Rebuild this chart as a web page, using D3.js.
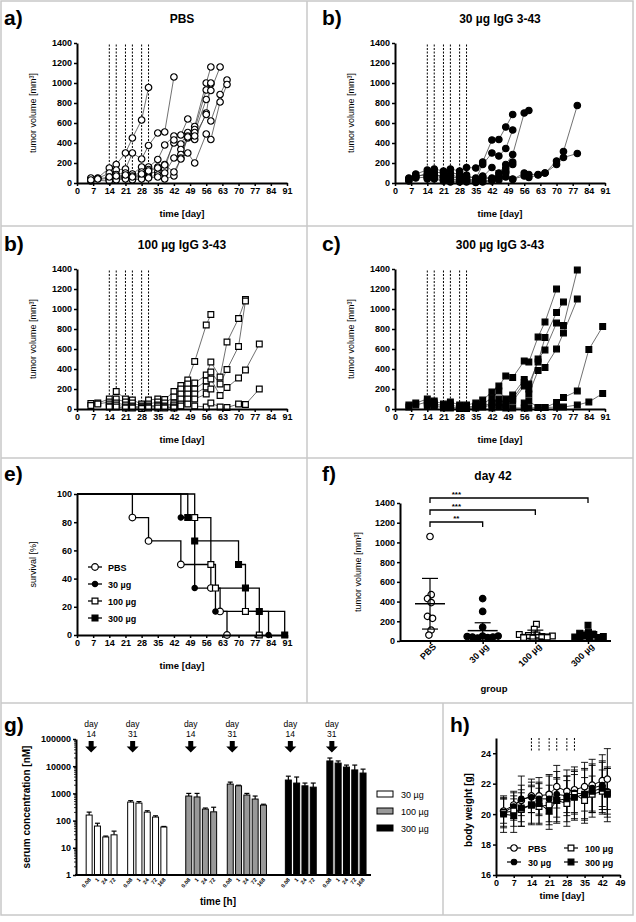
<!DOCTYPE html>
<html>
<head>
<meta charset="utf-8">
<script src="https://cdn.jsdelivr.net/npm/d3@7/dist/d3.min.js"></script>
<style>
  body { margin: 0; background: #fff; }
  svg { display: block; }
</style>
</head>
<body>
<script>
// ---------- DATA ----------
const groupNames = ["PBS", "30 µg", "100 µg", "300 µg"];
const dosingDays = [14, 17, 21, 24, 28, 31];
const dayTicks = [0, 7, 14, 21, 28, 35, 42, 49, 56, 63, 70, 77, 84, 91];
const volTicks = [0, 200, 400, 600, 800, 1000, 1200, 1400];

// tumor growth, one array of [day, volume] per mouse
const micePBS = [
  [[6,40],[9,50],[14,150],[17,185],[21,300],[24,450],[28,630],[31,955]],
  [[6,30],[9,45],[14,100],[17,130],[21,140],[24,300],[28,240],[31,375],[35,500],[38,510],[42,1060]],
  [[6,50],[9,40],[14,60],[17,85],[21,100],[24,90],[28,160],[31,160],[35,235],[38,380],[42,470],[45,480],[48,640],[51,565],[56,1000],[58,1160]],
  [[6,20],[14,50],[17,60],[21,70],[24,70],[28,110],[31,135],[35,160],[38,185],[42,400],[45,390],[48,505],[51,535],[56,930],[58,990]],
  [[14,40],[17,50],[21,60],[24,50],[28,80],[31,100],[35,110],[38,140],[42,430],[45,335],[48,470],[51,505],[56,835],[58,925],[62,1160]],
  [[14,30],[17,40],[21,50],[24,40],[28,60],[31,60],[35,80],[38,100],[42,250],[45,285],[48,450],[51,435],[56,700],[58,620],[62,885],[65,1030]],
  [[6,30],[14,20],[17,30],[21,40],[24,30],[28,40],[31,50],[35,60],[38,40],[42,70],[45,250],[48,300],[51,200],[56,490],[58,435],[62,810],[65,985]],
  [[14,60],[17,70],[21,80],[24,60],[28,90],[31,120],[35,150],[38,180],[42,110],[45,240],[48,460],[51,470],[56,685],[58,1000]]
];
const mice30 = [
  [[6,50],[9,90],[14,130],[17,140],[21,120],[24,140],[28,120],[31,155],[35,150],[38,210],[42,430],[45,435],[48,560],[51,685]],
  [[6,30],[9,60],[14,100],[17,110],[21,100],[24,100],[28,90],[31,80],[35,40],[38,185],[42,300],[45,270],[48,345],[51,530]],
  [[6,40],[9,70],[14,80],[17,90],[21,60],[24,60],[28,50],[31,40],[35,30],[38,60],[42,155],[45,100],[48,185],[51,285],[56,700],[58,725]],
  [[6,20],[9,50],[14,60],[17,70],[21,50],[24,40],[28,30],[31,30],[35,20],[38,40],[42,50],[45,70],[48,150],[51,185]],
  [[14,50],[17,50],[21,30],[24,20],[28,20],[31,20],[35,10],[38,20],[42,30],[45,50],[48,100],[51,35],[56,100],[58,85],[62,85],[65,100],[70,220],[73,255],[79,295]],
  [[14,40],[17,40],[21,20],[24,10],[28,10],[31,10],[35,5],[38,10],[42,20],[45,30],[48,60],[51,40],[56,70],[58,55],[62,80],[65,100],[70,185],[73,315],[79,775]],
  [[14,70],[17,80],[21,70],[24,80],[28,60],[31,60],[35,50],[38,70],[42,40],[45,50],[48,120],[51,210]]
];
const mice100 = [
  [[6,55],[9,60],[14,100],[17,175],[21,100],[24,90],[28,50],[31,90],[35,100],[38,95],[42,175],[45,235],[48,290],[51,475],[56,840],[58,945]],
  [[6,35],[9,50],[14,70],[17,100],[21,70],[24,60],[28,30],[31,50],[35,70],[38,60],[42,120],[45,200],[48,250],[51,260],[56,340],[58,470],[62,320],[65,670],[70,905],[73,1095]],
  [[14,50],[17,60],[21,40],[24,30],[28,20],[31,30],[35,40],[38,30],[42,60],[45,150],[48,200],[51,200],[56,280],[58,370],[62,250],[65,395],[70,625],[73,1080]],
  [[14,30],[17,40],[21,20],[24,20],[28,10],[31,20],[35,30],[38,20],[42,40],[45,100],[48,150],[51,150],[56,220],[58,300],[62,135],[65,215],[70,310],[73,390],[79,650]],
  [[14,20],[17,20],[21,10],[24,10],[28,5],[31,10],[35,10],[38,10],[42,20],[45,50],[48,100],[51,100],[56,150],[58,200]],
  [[42,10],[45,30],[48,50],[51,30],[56,20],[58,60],[62,20],[65,15],[70,50],[73,45],[79,200]]
];
const mice300 = [
  [[6,40],[9,60],[14,100],[17,80],[21,50],[24,70],[28,40],[31,40],[35,60],[38,90],[42,170],[45,230],[48,330],[51,315],[56,480],[58,470],[62,720],[65,870],[70,1200]],
  [[6,20],[9,40],[14,70],[17,60],[21,30],[24,40],[28,20],[31,20],[35,30],[38,50],[42,110],[45,180],[48,100],[51,140],[56,295],[58,250],[62,470],[65,715],[70,965],[73,1070]],
  [[14,50],[17,40],[21,20],[24,20],[28,10],[31,15],[35,20],[38,30],[42,60],[45,100],[48,50],[51,100],[56,265],[58,200],[62,500],[65,590],[70,860],[73,835],[79,1390]],
  [[14,30],[17,30],[21,10],[24,10],[28,5],[31,5],[35,10],[38,20],[42,40],[45,60],[48,30],[51,80],[56,230],[58,150],[62,385],[65,415],[70,600],[73,760],[79,1100]],
  [[56,60],[58,80],[62,15],[65,15],[70,65],[73,115],[79,180],[84,595],[90,825]],
  [[42,10],[45,20],[48,10],[51,10],[56,10],[58,10],[62,15],[65,15],[70,20],[73,20],[79,40],[84,70],[90,155]]
];

// survival [day, percent]
const survPBS = [[0,100],[24,83.3],[31,66.7],[45,50],[58,33.3],[62,16.7],[65,0]];
const surv30  = [[0,100],[45,83.3],[51,33.3],[60,16.7],[83,0]];
const surv100 = [[0,100],[51,83.3],[58,50],[60,33.3],[73,16.7],[79,0]];
const surv300 = [[0,100],[48,83.3],[51,66.7],[70,50],[73,33.3],[79,16.7],[90,0]];
const survTicks = [0, 20, 40, 60, 80, 100];

// day 42 volumes
const d42PBS = [1060, 470, 430, 390, 250, 230, 110, 60];
const d42_30 = [430, 300, 140, 50, 45, 40, 40, 35, 30, 50];
const d42_100 = [170, 120, 65, 60, 55, 50, 45, 40, 35, 30];
const d42_300 = [160, 90, 80, 65, 55, 45, 40, 35, 30, 40];
const d42Mean = [378, 105, 65, 60];
const d42SD = [257, 80, 45, 40];
const sigLabels = ["**", "***", "***"]; // PBS vs 30, 100, 300

// serum concentration (nM)
const pkDoses = ["30 µg", "100 µg", "300 µg"];
const pkDays = ["14", "31"];
const pkHours14 = ["0.08", "1", "24", "72"];
const pkHours31 = ["0.08", "1", "24", "72", "168"];
const pkMean30  = [160, 63, 25, 30, 480, 440, 205, 135, 58];
const pkUpper30 = [205, 80, 27, 41, 540, 500, 230, 150, 61];
const pkMean100  = [800, 740, 265, 210, 2200, 1900, 870, 620, 370];
const pkUpper100 = [1000, 1000, 290, 310, 2600, 2000, 1000, 800, 400];
const pkMean300  = [3100, 2400, 1900, 1700, 15600, 13000, 9300, 7300, 5600];
const pkUpper300 = [4300, 4000, 2400, 2400, 20000, 15600, 11000, 11000, 7800];
const pkTicks = [1, 10, 100, 1000, 10000, 100000];

// body weight (g)
const bwDays = [3, 7, 10, 14, 17, 21, 24, 28, 31, 35, 38, 42, 44];
const bwPBS  = [20.2, 20.6, 20.9, 21.2, 21.2, 21.3, 21.8, 21.5, 21.6, 21.8, 21.9, 22.2, 22.3];
const bwPBSsd = [0.8, 0.9, 1.0, 1.1, 1.2, 1.3, 1.4, 1.4, 1.5, 1.6, 1.7, 1.7, 2.0];
const bw30   = [20.1, 20.5, 21.0, 21.1, 21.0, 21.0, 21.3, 21.2, 21.4, 21.3, 21.7, 21.9, 21.5];
const bw30sd  = [0.9, 0.9, 1.5, 1.0, 1.1, 1.5, 1.5, 1.3, 1.4, 1.7, 1.6, 1.6, 1.5];
const bw100  = [20.1, 20.2, 20.3, 20.6, 20.5, 20.6, 20.9, 20.7, 21.3, 20.9, 21.3, 21.5, 21.4];
const bw100sd = [1.0, 1.0, 1.1, 1.2, 1.2, 1.3, 1.4, 1.5, 1.6, 1.5, 1.2, 1.4, 1.6];
const bw300  = [20.0, 19.9, 20.4, 20.6, 20.7, 20.2, 20.9, 21.0, 21.1, 21.3, 21.5, 21.7, 21.3];
const bw300sd = [1.2, 1.1, 1.2, 1.3, 1.3, 1.2, 1.5, 1.5, 1.5, 1.6, 1.7, 1.7, 1.8];
const bwTicksX = [0, 7, 14, 21, 28, 35, 42, 49];
const bwTicksY = [16, 18, 20, 22, 24];

// ---------- STYLE ----------
const FONT = "'Liberation Sans', Arial, Helvetica, sans-serif";
const markTypes = ["circleOpen", "circleFilled", "squareOpen", "squareFilled"];
const pkFills = ["#ffffff", "#999999", "#000000"];
const fmt = d3.format("d");

const svg = d3.select("body").append("svg")
  .attr("width", 636).attr("height", 922)
  .style("font-family", FONT);

// panel frame lines
const frame = svg.append("g").attr("stroke", "#c8c8c8").attr("stroke-width", 1.5).attr("fill", "none");
frame.append("rect").attr("x", 1).attr("y", 1).attr("width", 632).attr("height", 914);
[226, 458, 703].forEach(y => frame.append("line").attr("x1", 1).attr("x2", 633).attr("y1", y).attr("y2", y));
frame.append("line").attr("x1", 307).attr("x2", 307).attr("y1", 1).attr("y2", 703);
frame.append("line").attr("x1", 443).attr("x2", 443).attr("y1", 703).attr("y2", 915);

function txt(x, y, s, o = {}) {
  const t = svg.append("text").attr("x", x).attr("y", y).text(s)
    .attr("font-size", o.size || 9)
    .attr("font-weight", o.bold ? "bold" : "normal")
    .attr("text-anchor", o.anchor || "middle")
    .attr("fill", "#000");
  if (o.rotate) t.attr("transform", `rotate(${o.rotate},${x},${y})`);
  return t;
}

function drawAxis(axis, tx, ty) {
  const a = svg.append("g").attr("transform", `translate(${tx},${ty})`).call(axis);
  a.attr("font-family", FONT).attr("font-size", 9).attr("font-weight", "bold");
  a.select(".domain").attr("stroke-width", 2);
  a.selectAll(".tick line").attr("stroke-width", 1.5);
  a.selectAll(".tick text").attr("fill", "#000");
  return a;
}

function marker(sel, type, scale = 1) {
  const sq = type.startsWith("square");
  const filled = type.endsWith("Filled");
  sel.attr("d", d3.symbol().type(sq ? d3.symbolSquare : d3.symbolCircle).size(30 * scale))
    .attr("fill", filled ? "#000" : "#fff")
    .attr("stroke", "#000").attr("stroke-width", 1.2);
}

// ---------- GROWTH PANELS ----------
function growthPanel(o) {
  const x = d3.scaleLinear().domain([0, 91]).range([o.left, o.left + 210]);
  const y = d3.scaleLinear().domain([0, 1400]).range([o.top0 + 183, o.top0 + 43]);
  const g = svg.append("g");

  g.selectAll("line.dose").data(dosingDays).join("line")
    .attr("x1", d => x(d)).attr("x2", d => x(d))
    .attr("y1", y(0)).attr("y2", y(1400))
    .attr("stroke", "#000").attr("stroke-width", 1).attr("stroke-dasharray", "2,1.5");

  const line = d3.line().x(d => x(d[0])).y(d => y(d[1]));
  g.selectAll("path.mouse").data(o.mice).join("path")
    .attr("d", line).attr("fill", "none")
    .attr("stroke", "#333").attr("stroke-width", 0.7);

  g.selectAll("path.pt").data(o.mice.flat()).join("path")
    .attr("transform", d => `translate(${x(d[0])},${y(d[1])})`)
    .call(marker, o.mark, 1.1);

  drawAxis(d3.axisBottom(x).tickValues(dayTicks).tickSize(3).tickPadding(2).tickSizeOuter(0), 0, y(0));
  drawAxis(d3.axisLeft(y).tickValues(volTicks).tickFormat(fmt).tickSize(3).tickPadding(2).tickSizeOuter(0), x(0), 0);

  txt(o.left - 73, o.top0 + 25, o.letter, { size: 21, bold: true, anchor: "start" });
  txt(o.left + 105, o.top0 + 23, o.title, { size: 12, bold: true });
  txt(o.left - 41, y(700), "tumor volume [mm³]", { size: 9, rotate: -90 });
  txt(o.left + 105, o.top0 + 217, "time [day]", { size: 9.5, bold: true });
}

growthPanel({ left: 77, top0: 0, mice: micePBS, mark: "circleOpen", letter: "a)", title: "PBS" });
growthPanel({ left: 395, top0: 0, mice: mice30, mark: "circleFilled", letter: "b)", title: "30 µg IgG 3-43" });
growthPanel({ left: 77, top0: 226, mice: mice100, mark: "squareOpen", letter: "b)", title: "100 µg IgG 3-43" });
growthPanel({ left: 395, top0: 226, mice: mice300, mark: "squareFilled", letter: "c)", title: "300 µg IgG 3-43" });

// ---------- SURVIVAL (e) ----------
{
  const x = d3.scaleLinear().domain([0, 91]).range([77, 287]);
  const y = d3.scaleLinear().domain([0, 100]).range([635, 494]);
  const series = [survPBS, surv30, surv100, surv300];
  const step = d3.line().x(d => x(d[0])).y(d => y(d[1])).curve(d3.curveStepAfter);
  series.forEach(s => {
    svg.append("path").attr("d", step(s)).attr("fill", "none")
      .attr("stroke", "#000").attr("stroke-width", 1.3);
  });
  series.forEach((s, i) => {
    svg.append("g").selectAll("path").data(s.slice(1)).join("path")
      .attr("transform", d => `translate(${x(d[0])},${y(d[1])})`)
      .call(marker, markTypes[i], i === 1 ? 0.75 : 1.15);
  });
  drawAxis(d3.axisBottom(x).tickValues(dayTicks).tickSize(3).tickPadding(2).tickSizeOuter(0), 0, y(0));
  drawAxis(d3.axisLeft(y).tickValues(survTicks).tickSize(3).tickPadding(2).tickSizeOuter(0), x(0), 0);

  const leg = svg.append("g").selectAll("g").data(groupNames).join("g")
    .attr("transform", (d, i) => `translate(95,${567 + i * 17})`);
  leg.append("line").attr("x1", -7).attr("x2", 7).attr("stroke", "#000").attr("stroke-width", 1.3);
  leg.append("path").each(function(d, i) { d3.select(this).call(marker, markTypes[i], i === 1 ? 0.75 : 1.15); });
  leg.append("text").attr("x", 13).attr("y", 3.5).attr("font-size", 9).attr("font-weight", "bold").text(d => d);

  txt(4, 481, "e)", { size: 21, bold: true, anchor: "start" });
  txt(36, y(50), "survival [%]", { size: 9, rotate: -90 });
  txt(182, 669, "time [day]", { size: 9.5, bold: true });
}

// ---------- DAY 42 SCATTER (f) ----------
{
  const x = d3.scalePoint().domain(groupNames).range([430, 588]);
  const y = d3.scaleLinear().domain([0, 1400]).range([641, 503]);
  const vals = [d42PBS, d42_30, d42_100, d42_300];

  vals.forEach((arr, gi) => {
    const cx0 = x(groupNames[gi]);
    const nodes = arr.map((v, i) => ({ v, x: cx0 + (i % 2 ? 0.5 : -0.5), fy: y(v) }));
    const sim = d3.forceSimulation(nodes)
      .force("x", d3.forceX(cx0).strength(0.35))
      .force("c", d3.forceCollide(2.7))
      .stop();
    for (let k = 0; k < 200; k++) sim.tick();
    svg.append("g").selectAll("path").data(nodes).join("path")
      .attr("transform", d => `translate(${d.x},${d.fy})`)
      .call(marker, markTypes[gi], 1.1);
  });

  // mean and SD
  const ms = svg.append("g").attr("stroke", "#000");
  groupNames.forEach((gname, i) => {
    const cx = x(gname);
    ms.append("line").attr("x1", cx - 15).attr("x2", cx + 15).attr("y1", y(d42Mean[i])).attr("y2", y(d42Mean[i])).attr("stroke-width", 1.5);
    ms.append("line").attr("x1", cx).attr("x2", cx).attr("y1", y(Math.max(0, d42Mean[i] - d42SD[i]))).attr("y2", y(d42Mean[i] + d42SD[i])).attr("stroke-width", 1.2);
    [d42Mean[i] + d42SD[i], d42Mean[i] - d42SD[i]].forEach(v => {
      if (v > 0) ms.append("line").attr("x1", cx - 8).attr("x2", cx + 8).attr("y1", y(v)).attr("y2", y(v)).attr("stroke-width", 1.2);
    });
  });

  // significance brackets
  sigLabels.forEach((s, i) => {
    const yl = 522 - i * 12;
    const x1 = x(groupNames[0]), x2 = x(groupNames[i + 1]);
    svg.append("path").attr("d", `M${x1},${yl + 5}V${yl}H${x2}V${yl + 5}`)
      .attr("fill", "none").attr("stroke", "#000").attr("stroke-width", 1.3);
    txt((x(groupNames[0]) + x(groupNames[1])) / 2, yl - 1, s, { size: 8, bold: true });
  });

  drawAxis(d3.axisLeft(y).tickValues(volTicks).tickFormat(fmt).tickSize(3).tickPadding(2).tickSizeOuter(0), 400, 0);
  const xa = drawAxis(d3.axisBottom(x).tickSize(3).tickPadding(2).tickSizeOuter(0), 0, y(0));
  xa.select(".domain").attr("d", `M400,0H611`);
  xa.selectAll(".tick text").attr("text-anchor", "end")
    .attr("transform", "translate(4,4) rotate(-45)").attr("dy", "0.35em").attr("y", 0).attr("x", 0);

  txt(322, 481, "f)", { size: 21, bold: true, anchor: "start" });
  txt(493, 480, "day 42", { size: 12, bold: true });
  txt(361, y(700), "tumor volume [mm³]", { size: 9, rotate: -90 });
  txt(494, 692, "group", { size: 9.5, bold: true });
}

// ---------- SERUM CONCENTRATION (g) ----------
{
  const means = [pkMean30, pkMean100, pkMean300];
  const uppers = [pkUpper30, pkUpper100, pkUpper300];
  const rows = [], slots = [];
  means.forEach((m, di) => {
    let k = 0;
    pkDays.forEach((day, j) => {
      const hours = j === 0 ? pkHours14 : pkHours31;
      hours.forEach((h, hi) => {
        const key = `${di}-${day}-${hi}`;
        slots.push(key);
        rows.push({ key, dose: di, day, hour: h, mean: m[k], upper: uppers[di][k], first: hi === 0 });
        k++;
      });
      slots.push(`gap-${di}-${j}`);
      if (j === 1 && di < 2) slots.push(`gap2-${di}`);
    });
  });

  const xb = d3.scaleBand().domain(slots).range([85, 85 + slots.length * 8.3]).paddingInner(0.28).paddingOuter(0.14);
  const y = d3.scaleLog().domain([1, 100000]).range([875, 739]);
  const bw = xb.bandwidth();

  const bars = svg.append("g");
  bars.selectAll("line.err").data(rows).join("line")
    .attr("x1", d => xb(d.key) + bw / 2).attr("x2", d => xb(d.key) + bw / 2)
    .attr("y1", d => y(d.mean)).attr("y2", d => y(d.upper))
    .attr("stroke", "#000").attr("stroke-width", 1.2);
  bars.selectAll("line.cap").data(rows).join("line")
    .attr("x1", d => xb(d.key) + 0.5).attr("x2", d => xb(d.key) + bw - 0.5)
    .attr("y1", d => y(d.upper)).attr("y2", d => y(d.upper))
    .attr("stroke", "#000").attr("stroke-width", 1.2);
  bars.selectAll("rect").data(rows).join("rect")
    .attr("x", d => xb(d.key)).attr("width", bw)
    .attr("y", d => y(d.mean)).attr("height", d => y(1) - y(d.mean))
    .attr("fill", d => pkFills[d.dose]).attr("stroke", "#000").attr("stroke-width", 1);

  bars.selectAll("text").data(rows).join("text")
    .attr("transform", d => `translate(${xb(d.key) + bw / 2 + 2},${880}) rotate(-50)`)
    .attr("text-anchor", "end").attr("font-size", 5.5).attr("font-weight", "bold")
    .text(d => d.hour);

  rows.filter(d => d.first).forEach(d => {
    const cx = xb(d.key) + bw / 2 + 2;
    txt(cx, 727, "day", { size: 8.5 });
    txt(cx, 737, d.day, { size: 8.5 });
    svg.append("path")
      .attr("d", `M${cx - 2.5},741H${cx + 2.5}V746.5H${cx + 6}L${cx},752.5L${cx - 6},746.5H${cx - 2.5}Z`)
      .attr("fill", "#000");
  });

  drawAxis(d3.axisLeft(y).tickValues(pkTicks).tickFormat(fmt).tickSize(3).tickPadding(2).tickSizeOuter(0), 76, 0);
  const minor = [];
  pkTicks.slice(0, -1).forEach(t => [2, 3, 4, 5, 6, 7, 8, 9].forEach(m => minor.push(t * m)));
  svg.append("g").selectAll("line").data(minor).join("line")
    .attr("x1", 74).attr("x2", 76).attr("y1", d => y(d)).attr("y2", d => y(d))
    .attr("stroke", "#000").attr("stroke-width", 0.8);
  svg.append("line").attr("x1", 75).attr("x2", 371).attr("y1", 875).attr("y2", 875)
    .attr("stroke", "#000").attr("stroke-width", 2);

  const leg = svg.append("g").selectAll("g").data(pkDoses).join("g")
    .attr("transform", (d, i) => `translate(377,${791 + i * 17})`);
  leg.append("rect").attr("width", 16).attr("height", 6)
    .attr("fill", (d, i) => pkFills[i]).attr("stroke", "#000").attr("stroke-width", 1);
  leg.append("text").attr("x", 24).attr("y", 6.5).attr("font-size", 9).text(d => d);

  txt(4, 732, "g)", { size: 21, bold: true, anchor: "start" });
  txt(30, 807, "serum concentration [nM]", { size: 10, bold: true, rotate: -90 });
  txt(218, 905, "time [h]", { size: 10, bold: true });
}

// ---------- BODY WEIGHT (h) ----------
{
  const x = d3.scaleLinear().domain([0, 49]).range([496, 620]);
  const y = d3.scaleLinear().domain([16, 25]).range([875, 738]);
  const means = [bwPBS, bw30, bw100, bw300];
  const sds = [bwPBSsd, bw30sd, bw100sd, bw300sd];

  svg.append("g").selectAll("line").data(dosingDays).join("line")
    .attr("x1", d => x(d)).attr("x2", d => x(d)).attr("y1", y(25)).attr("y2", y(24.1))
    .attr("stroke", "#000").attr("stroke-width", 1).attr("stroke-dasharray", "2,1.5");

  means.forEach((m, si) => {
    const pts = bwDays.map((d, i) => ({ d, m: m[i], s: sds[si][i] }));
    const g = svg.append("g").attr("stroke", "#000").attr("stroke-width", 0.9);
    g.selectAll("line.v").data(pts).join("line")
      .attr("x1", p => x(p.d)).attr("x2", p => x(p.d)).attr("y1", p => y(p.m - p.s)).attr("y2", p => y(p.m + p.s));
    g.selectAll("line.t").data(pts.flatMap(p => [[p.d, p.m + p.s], [p.d, p.m - p.s]])).join("line")
      .attr("x1", p => x(p[0]) - 3.5).attr("x2", p => x(p[0]) + 3.5).attr("y1", p => y(p[1])).attr("y2", p => y(p[1]));
  });
  means.forEach((m, si) => {
    const pts = bwDays.map((d, i) => [d, m[i]]);
    svg.append("path").attr("d", d3.line().x(p => x(p[0])).y(p => y(p[1]))(pts))
      .attr("fill", "none").attr("stroke", "#000").attr("stroke-width", 1);
    svg.append("g").selectAll("path").data(pts).join("path")
      .attr("transform", p => `translate(${x(p[0])},${y(p[1])})`)
      .call(marker, markTypes[si], si === 1 ? 0.8 : 1.1);
  });

  drawAxis(d3.axisBottom(x).tickValues(bwTicksX).tickSize(3).tickPadding(2).tickSizeOuter(0), 0, 875);
  drawAxis(d3.axisLeft(y).tickValues(bwTicksY).tickSize(3).tickPadding(2).tickSizeOuter(0), 496, 0);

  const leg = svg.append("g").selectAll("g").data(groupNames).join("g")
    .attr("transform", (d, i) => `translate(${i < 2 ? 514 : 571},${i % 2 ? 862 : 848})`);
  leg.append("line").attr("x1", -7).attr("x2", 7).attr("stroke", "#000").attr("stroke-width", 1.2);
  leg.append("path").each(function(d, i) { d3.select(this).call(marker, markTypes[i], i === 1 ? 0.8 : 1.1); });
  leg.append("text").attr("x", 14).attr("y", 3.5).attr("font-size", 9).attr("font-weight", "bold").text(d => d);

  txt(450, 732, "h)", { size: 21, bold: true, anchor: "start" });
  txt(472, 810, "body weight [g]", { size: 10, bold: true, rotate: -90 });
  txt(562, 899, "time [day]", { size: 9.5, bold: true });
}
</script>
</body>
</html>
